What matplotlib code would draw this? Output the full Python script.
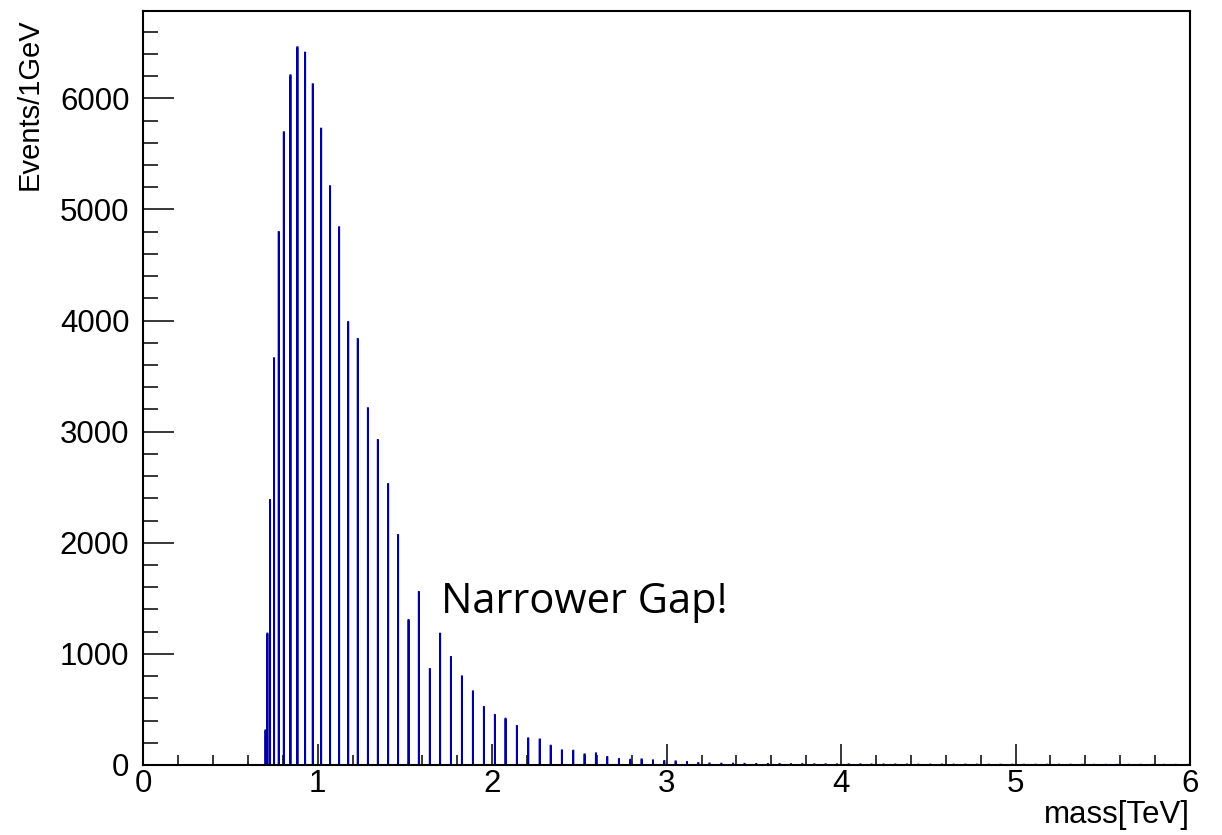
import numpy as np
import matplotlib
matplotlib.use("Agg")
import matplotlib.pyplot as plt
from matplotlib.ticker import MultipleLocator

# Reconstructed mass spectrum, filled in 1 GeV bins from 0 to 6 TeV
bin_width_gev = 1
mass_range_gev = (0, 6000)

# Masses (GeV) of the populated bins and their event counts
peak_mass_gev = [
    700, 711, 726, 749, 776, 805, 843, 883, 927, 971,
    1019, 1070, 1122, 1174, 1229, 1287, 1344, 1403, 1460, 1520,
    1579, 1642, 1701, 1763, 1826, 1889, 1952,
    2015, 2076, 2141, 2206, 2272, 2335, 2399, 2464, 2529, 2594,
    2659, 2726, 2791, 2856, 2921, 2986,
    3051, 3116, 3181, 3245, 3313, 3380, 3446, 3513, 3580, 3647,
    3712, 3777, 3846, 3911, 3976, 4043, 4110, 4174, 4243, 4310,
    4377, 4442, 4511, 4578,
    4645, 4712, 4779, 4846, 4913, 4980, 5047, 5114, 5181, 5248,
    5315, 5382, 5449, 5516, 5583, 5650, 5717, 5784, 5851, 5918, 5985,
]
peak_counts = [
    312, 1183, 2385, 3661, 4797, 5695, 6208, 6460, 6411, 6127,
    5727, 5209, 4840, 3987, 3834, 3211, 2925, 2529, 2070, 1305,
    1557, 864, 1182, 972, 798, 663, 522,
    450, 417, 351, 240, 230, 174, 132, 129, 96, 105,
    72, 54, 48, 51, 42, 36,
    33, 27, 18, 14, 12, 12, 11, 10, 9, 9,
    8, 8, 7, 7, 6, 6, 6, 5, 5, 5,
    5, 4, 4, 4,
    4, 4, 4, 3, 3, 3, 3, 3, 3, 3,
    3, 3, 2, 2, 2, 2, 2, 2, 2, 2, 2,
]

x_ticks_tev = [0, 1, 2, 3, 4, 5, 6]
y_ticks = [0, 1000, 2000, 3000, 4000, 5000, 6000]

annotation_text = "Narrower Gap!"
annotation_pos = (1.707, 1365)

# Fill the histogram
edges_gev = np.arange(mass_range_gev[0], mass_range_gev[1] + bin_width_gev, bin_width_gev)
counts = np.zeros(len(edges_gev) - 1)
counts[np.searchsorted(edges_gev, peak_mass_gev, side="right") - 1] += peak_counts
edges_tev = edges_gev / 1000.0

plt.rcParams["font.family"] = ["Liberation Sans", "DejaVu Sans"]

fig = plt.figure(figsize=(12.22, 8.35), dpi=100)
ax = fig.add_axes([143.3 / 1222, 70 / 835, (1190 - 143.3) / 1222, (765 - 11.3) / 835])

hist_color = "#00009c"
ax.stairs(counts, edges_tev, color=hist_color, linewidth=1.35, zorder=3)

ax.set_xlim(0, 6)
ax.set_ylim(0, 1.05 * max(peak_counts))

ax.set_xticks(x_ticks_tev)
ax.set_yticks(y_ticks)
ax.xaxis.set_minor_locator(MultipleLocator(0.2))
ax.yaxis.set_minor_locator(MultipleLocator(200))

ax.tick_params(axis="both", which="both", direction="in", width=1.1, colors="black",
               top=False, right=False, labelsize=22.5)
ax.tick_params(axis="x", which="major", length=15, pad=3)
ax.tick_params(axis="x", which="minor", length=7.5)
ax.tick_params(axis="y", which="major", length=22, pad=10)
ax.tick_params(axis="y", which="minor", length=11)

for spine in ax.spines.values():
    spine.set_linewidth(1.5)
    spine.set_zorder(4)

fig.text(30 / 1222, 1 - 18 / 835, "Events/1GeV", rotation=90, ha="center", va="top",
         fontsize=21)
fig.text(1190 / 1222, 1 - 815 / 835, "mass[TeV]", ha="right", va="center", fontsize=22.5)

ax.text(annotation_pos[0], annotation_pos[1], annotation_text, fontsize=30,
        family=["Open Sans", "DejaVu Sans"], ha="left", va="baseline", color="black")

fig.savefig("out.png", dpi=100, facecolor="white")
